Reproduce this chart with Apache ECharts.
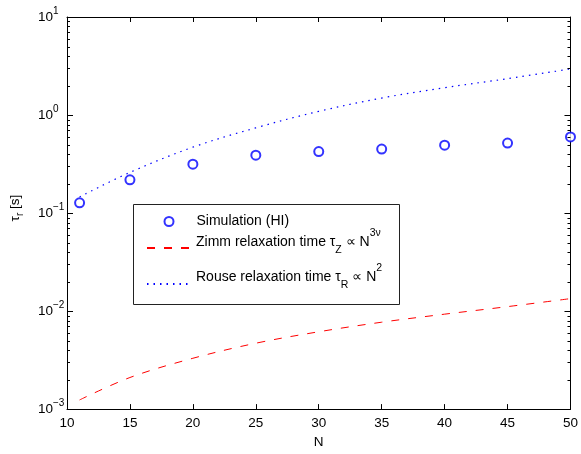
<!DOCTYPE html>
<html>
<head>
<meta charset="utf-8">
<script src="https://cdn.jsdelivr.net/npm/echarts@6/dist/echarts.min.js"></script>
<style>
  html, body { margin: 0; padding: 0; background: #ffffff; }
  #chart { width: 581px; height: 454px; }
</style>
</head>
<body>
<div id="chart"></div>
<script>
// Chain length N for every curve
const chainLengths = [11, 15, 20, 25, 30, 35, 40, 45, 50];
// Relaxation times tau_r in seconds
const simulationTau = [0.127, 0.218, 0.315, 0.389, 0.424, 0.450, 0.493, 0.518, 0.598];
const zimmTau = [0.00124, 0.0021, 0.0033, 0.0047, 0.00615, 0.0077, 0.0093, 0.0111, 0.0134];
const rouseTau = [0.146, 0.26, 0.47, 0.74, 1.09, 1.49, 1.9, 2.35, 2.95];

// Axis ranges
const xRange = { min: 10, max: 50, interval: 5 };
const yRange = { min: 0.001, max: 10 };
const minorMantissas = [2, 3, 4, 5, 6, 7, 8, 9];
const minorDecades = [-3, -2, -1, 0];

const FONT = "'Liberation Sans', Arial, Helvetica, sans-serif";
const TICK_SIZE = 13.5;
const LEGEND_SIZE = 14;
const BLUE = '#0000ff';
const RED = '#ff0000';

const pairs = (xs, ys) => xs.map((x, i) => [x, ys[i]]);

// Minor tick values on the log axis (2..9 in each decade)
const minorTickValues = [];
minorDecades.forEach(d => minorMantissas.forEach(m => minorTickValues.push([xRange.min, m * Math.pow(10, d)])));

const chart = echarts.init(document.getElementById('chart'), null, { renderer: 'canvas' });

const axisBlack = { lineStyle: { color: '#000', width: 1 } };

function powerLabel(v) {
  const e = Math.round(Math.log10(v));
  return '{base|10}{exp|' + (e < 0 ? '\u2212' : '') + Math.abs(e) + '}';
}

const legendBase = {
  orient: 'horizontal',
  left: 146,
  padding: 0,
  itemWidth: 44,
  itemHeight: 10,
  itemGap: 0,
  selectedMode: false,
  z: 5
};
// line entries show only the line, no marker
const lineOnly = { itemStyle: { opacity: 0 } };

const option = {
  backgroundColor: '#ffffff',
  animation: false,
  grid: { left: 64, right: 9, top: 17, bottom: 38, containLabel: false },
  xAxis: [
    {
      type: 'value', min: xRange.min, max: xRange.max, interval: xRange.interval,
      position: 'bottom',
      name: 'N', nameLocation: 'middle', nameGap: 23,
      nameTextStyle: { fontFamily: FONT, fontSize: TICK_SIZE, color: '#000' },
      axisLine: axisBlack,
      axisTick: { inside: true, length: 5, lineStyle: { color: '#000' } },
      axisLabel: { fontFamily: FONT, fontSize: TICK_SIZE, color: '#000', margin: 7 },
      splitLine: { show: false }
    },
    {
      type: 'value', min: xRange.min, max: xRange.max, interval: xRange.interval,
      position: 'top',
      axisLine: axisBlack,
      axisTick: { inside: true, length: 5, lineStyle: { color: '#000' } },
      axisLabel: { show: false },
      splitLine: { show: false }
    }
  ],
  yAxis: [
    {
      type: 'log', logBase: 10, min: yRange.min, max: yRange.max,
      position: 'left',
      name: '{t|τ}{s|r}{t| [s]}', nameLocation: 'middle', nameGap: 42, nameRotate: 90,
      nameTextStyle: {
        fontFamily: FONT, color: '#000', padding: [0, 0, 0, 10],
        rich: {
          t: { fontFamily: FONT, fontSize: TICK_SIZE, lineHeight: 20, color: '#000' },
          s: { fontFamily: FONT, fontSize: 10, lineHeight: 12, verticalAlign: 'bottom', color: '#000' }
        }
      },
      axisLine: axisBlack,
      axisTick: { inside: true, length: 6, lineStyle: { color: '#000' } },
      axisLabel: {
        margin: 29, align: 'left', formatter: powerLabel,
        rich: {
          base: { fontFamily: FONT, fontSize: TICK_SIZE, lineHeight: 22, color: '#000' },
          exp: { fontFamily: FONT, fontSize: 10, lineHeight: 12, verticalAlign: 'top', color: '#000' }
        }
      },
      splitLine: { show: false },
      minorTick: { show: false }
    },
    {
      type: 'log', logBase: 10, min: yRange.min, max: yRange.max,
      position: 'right',
      axisLine: axisBlack,
      axisTick: { inside: true, length: 6, lineStyle: { color: '#000' } },
      axisLabel: { show: false },
      splitLine: { show: false }
    }
  ],
  legend: [
    Object.assign({}, legendBase, {
      left: 163.5, top: 214,
      itemWidth: 9, itemHeight: 9,
      data: ['Simulation (HI)'],
      textStyle: { fontFamily: FONT, fontSize: LEGEND_SIZE, lineHeight: 15, color: '#000', padding: [0, 0, 0, 18] }
    }),
    Object.assign({}, legendBase, lineOnly, {
      top: 228,
      data: ['Zimm relaxation time'],
      formatter: () => '{m|Zimm relaxation time τ}{sub|Z}{m| ∝ N}{sup|3ν}',
      textStyle: {
        fontFamily: FONT, fontSize: LEGEND_SIZE, color: '#000', padding: [0, 0, 12, 0],
        rich: {
          m: { fontFamily: FONT, fontSize: LEGEND_SIZE, lineHeight: 28, color: '#000' },
          sub: { fontFamily: FONT, fontSize: 10.5, lineHeight: 12, verticalAlign: 'bottom', color: '#000' },
          sup: { fontFamily: FONT, fontSize: 10.5, lineHeight: 16, verticalAlign: 'top', color: '#000' }
        }
      }
    }),
    Object.assign({}, legendBase, lineOnly, {
      top: 263,
      data: ['Rouse relaxation time'],
      formatter: () => '{m|Rouse relaxation time τ}{sub|R}{m| ∝ N}{sup|2}',
      textStyle: {
        fontFamily: FONT, fontSize: LEGEND_SIZE, color: '#000', padding: [0, 0, 14, 0],
        rich: {
          m: { fontFamily: FONT, fontSize: LEGEND_SIZE, lineHeight: 28, color: '#000' },
          sub: { fontFamily: FONT, fontSize: 10.5, lineHeight: 10, verticalAlign: 'bottom', color: '#000' },
          sup: { fontFamily: FONT, fontSize: 10.5, lineHeight: 14, verticalAlign: 'top', color: '#000' }
        }
      }
    })
  ],
  graphic: [
    {
      type: 'rect', z: 3,
      shape: { x: 133.5, y: 204.5, width: 266, height: 100 },
      style: { fill: '#ffffff', stroke: '#222', lineWidth: 1 }
    }
  ],
  series: [
    {
      name: 'Rouse relaxation time', type: 'line',
      xAxisIndex: 0, yAxisIndex: 0,
      data: pairs(chainLengths, rouseTau),
      smooth: 0.35, symbol: 'none',
      lineStyle: { color: BLUE, width: 1.2, type: [1.5, 5] },
      itemStyle: { color: BLUE },
      z: 2
    },
    {
      name: 'Zimm relaxation time', type: 'line',
      xAxisIndex: 0, yAxisIndex: 0,
      data: pairs(chainLengths, zimmTau),
      smooth: 0.35, symbol: 'none',
      lineStyle: { color: RED, width: 1, type: [8, 9] },
      itemStyle: { color: RED },
      z: 2
    },
    {
      name: 'Simulation (HI)', type: 'scatter',
      xAxisIndex: 0, yAxisIndex: 0,
      data: pairs(chainLengths, simulationTau),
      symbol: 'emptyCircle', symbolSize: 9,
      itemStyle: { color: BLUE, borderColor: BLUE, borderWidth: 1 },
      z: 3
    },
    {
      // minor ticks of the log axis, drawn on both vertical edges
      name: 'minorTicks', type: 'custom',
      xAxisIndex: 0, yAxisIndex: 0,
      data: minorTickValues,
      silent: true, clip: false,
      renderItem: function (params, api) {
        const y = Math.round(api.coord([api.value(0), api.value(1)])[1]) + 0.5;
        const cs = params.coordSys;
        const xl = cs.x, xr = cs.x + cs.width;
        return {
          type: 'group',
          children: [
            { type: 'line', shape: { x1: xl, y1: y, x2: xl + 3, y2: y }, style: { stroke: '#000', lineWidth: 1 } },
            { type: 'line', shape: { x1: xr - 3, y1: y, x2: xr, y2: y }, style: { stroke: '#000', lineWidth: 1 } }
          ]
        };
      },
      z: 4
    }
  ]
};

chart.setOption(option);
</script>
</body>
</html>
